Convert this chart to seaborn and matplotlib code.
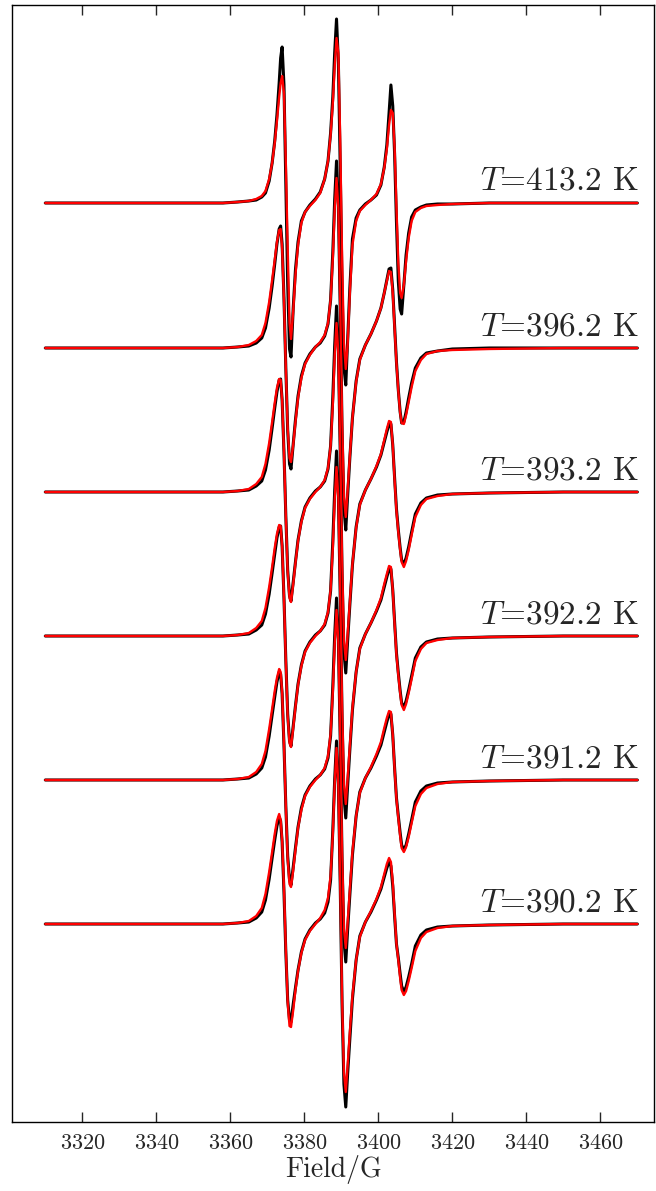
import numpy as np
import pandas as pd
import seaborn as sns
import matplotlib.pyplot as plt

# magnetic field grid (G), shared by all spectra
field = [3310, 3330, 3350, 3358, 3362, 3365, 3367, 3368.5, 3369.5, 3370.5,
         3371.3, 3372, 3372.6, 3373.2, 3373.6, 3374.0, 3374.5, 3375, 3375.5, 3376,
         3376.4, 3377, 3377.6, 3378.3, 3379.2, 3380.2, 3381.5, 3383, 3384.3, 3385.5,
         3386.4, 3387.1, 3387.7, 3388.2, 3388.7, 3389.2, 3389.7, 3390.2, 3390.7, 3391.2,
         3391.7, 3392.3, 3393, 3394, 3395, 3396.5, 3398, 3399.5, 3400.7, 3401.6,
         3402.3, 3402.9, 3403.4, 3403.9, 3404.4, 3404.9, 3405.4, 3405.9, 3406.3, 3406.9,
         3407.5, 3408.2, 3409, 3410, 3411.5, 3413, 3416, 3420, 3430, 3450,
         3470]

temps = [413.2, 396.2, 393.2, 392.2, 391.2, 390.2]
offsets = [721, 576, 432, 288, 144, 0]

# experimental (black) spectra
exp_413 = [0, 0, 0, 0, 1, 2, 3, 6, 10, 22,
           40, 62, 88, 120, 145, 156, 118, 20, -80, -146,
           -154, -105, -67, -39, -18, -9, -2, 4, 11, 24,
           42, 70, 106, 150, 184, 141, 37, -84, -164, -182,
           -138, -85, -36, -15, -7, -1, 3, 8, 18, 36,
           58, 90, 118, 97, 49, -19, -78, -106, -111, -82,
           -52, -30, -14, -7, -4, -2, -1, -1, 0, 0,
           0]
exp_396 = [0, 0, 0, 0, 1, 2, 5, 10, 20, 40,
           62, 84, 104, 119, 122, 104, 50, -20, -82, -116,
           -121, -96, -72, -48, -28, -15, -6, 1, 5, 12,
           24, 48, 96, 148, 187, 142, 40, -82, -160, -182,
           -148, -110, -70, -33, -11, 3, 14, 27, 40, 55,
           68, 79, 80, 58, 22, -14, -42, -64, -75, -74,
           -64, -50, -35, -20, -10, -5, -3, -1, 0, 0,
           0]
exp_393 = [0, 0, 0, 0, 1, 2, 6, 11, 22, 42,
           64, 84, 100, 112, 113, 92, 40, -24, -78, -104,
           -109, -90, -70, -48, -29, -15, -6, 1, 5, 11,
           23, 46, 95, 146, 186, 141, 40, -81, -160, -181,
           -149, -113, -73, -35, -12, 2, 13, 25, 37, 50,
           60, 68, 68, 47, 14, -17, -38, -56, -68, -72,
           -66, -55, -40, -22, -11, -6, -3, -2, -1, 0,
           0]
exp_392 = [0, 0, 0, 0, 1, 2, 6, 11, 22, 42,
           63, 82, 98, 109, 110, 90, 38, -24, -78, -105,
           -110, -90, -70, -48, -29, -15, -6, 1, 5, 11,
           23, 45, 95, 145, 185, 141, 40, -81, -160, -182,
           -150, -114, -74, -36, -12, 2, 13, 25, 36, 49,
           59, 67, 67, 46, 14, -17, -37, -55, -67, -71,
           -65, -54, -40, -22, -11, -6, -3, -2, -1, 0,
           0]
exp_391 = [0, 0, 0, 0, 1, 2, 6, 12, 23, 44,
           65, 83, 98, 108, 106, 86, 35, -26, -76, -100,
           -105, -87, -68, -47, -28, -15, -6, 1, 5, 11,
           22, 44, 94, 144, 182, 140, 40, -80, -160, -182,
           -150, -115, -75, -36, -12, 2, 12, 24, 35, 48,
           58, 66, 66, 45, 12, -18, -36, -53, -65, -70,
           -65, -54, -40, -22, -11, -6, -3, -2, -1, 0,
           0]
exp_390 = [0, 0, 0, 0, 1, 2, 6, 12, 24, 45,
           66, 84, 98, 107, 103, 82, 32, -28, -76, -96,
           -98, -80, -64, -46, -28, -15, -6, 1, 5, 11,
           22, 44, 94, 144, 183, 140, 40, -80, -160, -183,
           -150, -115, -75, -36, -12, 2, 12, 24, 35, 47,
           56, 62, 58, 38, 8, -20, -34, -50, -62, -68,
           -63, -53, -40, -22, -11, -6, -3, -2, -1, 0,
           0]

# simulated (red) spectra
sim_413 = [0, 0, 0, 0, 1, 2, 4, 7, 12, 24,
           40, 60, 82, 106, 120, 127, 110, 40, -45, -120,
           -136, -108, -72, -42, -20, -9, -3, 3, 10, 24,
           42, 68, 100, 136, 165, 150, 62, -55, -140, -166,
           -142, -90, -42, -18, -8, -2, 3, 9, 19, 35,
           54, 78, 93, 90, 55, -5, -60, -90, -95, -82,
           -58, -35, -18, -9, -5, -3, -2, -1, 0, 0,
           0]
sim_396 = [0, 0, 0, 0, 1, 3, 7, 13, 25, 46,
           68, 88, 106, 118, 119, 100, 48, -20, -80, -110,
           -114, -97, -74, -50, -30, -16, -7, 1, 6, 13,
           25, 48, 90, 138, 170, 140, 45, -72, -148, -169,
           -143, -108, -70, -34, -12, 3, 14, 27, 40, 55,
           67, 77, 76, 55, 20, -15, -43, -65, -75, -76,
           -67, -54, -39, -23, -12, -6, -3, -2, -1, 0,
           0]
sim_393 = [0, 0, 0, 0, 1, 3, 8, 15, 28, 49,
           70, 89, 104, 113, 112, 92, 40, -24, -80, -106,
           -110, -92, -71, -49, -30, -16, -7, 0, 5, 12,
           24, 46, 88, 136, 169, 138, 44, -70, -148, -168,
           -143, -110, -72, -36, -13, 2, 13, 26, 38, 52,
           63, 71, 70, 47, 12, -19, -40, -58, -70, -75,
           -69, -58, -43, -25, -13, -7, -4, -2, -1, 0,
           0]
sim_392 = [0, 0, 0, 0, 1, 3, 8, 15, 28, 49,
           69, 88, 102, 111, 110, 90, 38, -25, -80, -107,
           -111, -92, -71, -49, -30, -16, -7, 0, 5, 12,
           24, 46, 88, 136, 169, 138, 44, -70, -148, -168,
           -143, -110, -72, -36, -13, 2, 13, 26, 38, 52,
           62, 70, 69, 46, 12, -19, -39, -57, -69, -74,
           -68, -57, -43, -25, -13, -7, -4, -2, -1, 0,
           0]
sim_391 = [0, 0, 0, 0, 1, 3, 8, 16, 29, 51,
           71, 89, 102, 111, 108, 88, 36, -26, -79, -104,
           -107, -90, -70, -48, -30, -16, -7, 0, 5, 12,
           24, 46, 88, 136, 170, 138, 42, -72, -148, -168,
           -143, -110, -72, -36, -13, 2, 13, 26, 38, 52,
           62, 69, 68, 45, 11, -19, -38, -56, -68, -72,
           -67, -57, -43, -26, -14, -8, -4, -2, -1, 0,
           0]
sim_390 = [0, 0, 0, 0, 1, 3, 8, 16, 30, 52,
           72, 90, 103, 110, 104, 84, 36, -25, -78, -102,
           -103, -86, -66, -47, -29, -16, -7, 0, 6, 14,
           26, 48, 90, 140, 176, 138, 40, -75, -148, -168,
           -142, -108, -72, -36, -13, 2, 13, 25, 37, 50,
           60, 66, 62, 42, 10, -20, -36, -54, -66, -71,
           -67, -57, -44, -27, -14, -8, -4, -2, -1, 0,
           0]

exp_data = [exp_413, exp_396, exp_393, exp_392, exp_391, exp_390]
sim_data = [sim_413, sim_396, sim_393, sim_392, sim_391, sim_390]

sns.set_style('white')
plt.rcParams['font.family'] = ['cmr10', 'DejaVu Serif']
plt.rcParams['mathtext.fontset'] = 'cm'
plt.rcParams['axes.formatter.use_mathtext'] = True
plt.rcParams['axes.unicode_minus'] = False

fig = plt.figure(figsize=(6.56, 11.91), dpi=100)
ax = fig.add_axes([12 / 656, 1 - 1122 / 1191, 642 / 656, 1117 / 1191])

for t, off, e, s in zip(temps, offsets, exp_data, sim_data):
    df = pd.DataFrame({'field': field,
                       'exp': np.array(e) + off,
                       'sim': np.array(s) + off})
    sns.lineplot(data=df, x='field', y='exp', color='black', lw=2.2,
                 sort=False, estimator=None, ax=ax)
    sns.lineplot(data=df, x='field', y='sim', color='red', lw=1.7,
                 sort=False, estimator=None, ax=ax)
    ax.text(3470.5, off + 13, r'$T$=%.1f K' % t, ha='right', va='baseline',
            fontsize=24)

ax.set_xlim(3301, 3474.5)
ax.set_ylim(-198, 919)
ax.set_xticks(np.arange(3320, 3461, 20))
ax.set_yticks([])
ax.tick_params(axis='x', direction='in', top=True, bottom=True, length=7,
               width=1, labelsize=16, pad=8)
for sp in ax.spines.values():
    sp.set_visible(True)
    sp.set_color('black')
    sp.set_linewidth(1)
ax.set_xlabel('Field/G', fontsize=20, labelpad=2)
ax.set_ylabel('')

fig.savefig('out.png', dpi=100)
